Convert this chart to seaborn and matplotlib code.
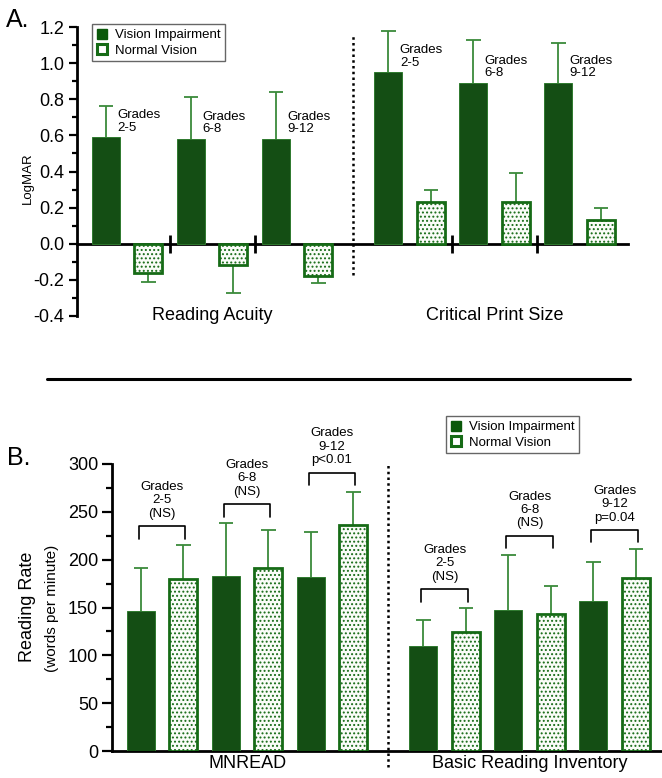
import numpy as np
import pandas as pd
import matplotlib
matplotlib.use('Agg')
import matplotlib.pyplot as plt
from matplotlib.patches import Patch
from matplotlib.lines import Line2D
from matplotlib.ticker import MultipleLocator
import seaborn as sns

groups = ['Vision Impairment', 'Normal Vision']
grades = ['2-5', '6-8', '9-12']

# panel A: LogMAR (mean, sd)
ra_vi = [0.59, 0.58, 0.58]
ra_vi_sd = [0.17, 0.23, 0.26]
ra_nv = [-0.16, -0.12, -0.18]
ra_nv_sd = [0.05, 0.15, 0.04]
cps_vi = [0.95, 0.89, 0.89]
cps_vi_sd = [0.23, 0.24, 0.22]
cps_nv = [0.23, 0.23, 0.13]
cps_nv_sd = [0.07, 0.16, 0.07]
a_names = ['Reading Acuity', 'Critical Print Size']

# panel B: reading rate, words per minute (mean, sd)
mn_vi = [146, 183, 182]
mn_vi_sd = [45, 55, 47]
mn_nv = [180, 191, 236]
mn_nv_sd = [35, 40, 35]
bri_vi = [110, 147, 157]
bri_vi_sd = [27, 58, 41]
bri_nv = [124, 143, 181]
bri_nv_sd = [25, 29, 30]
mn_p = ['(NS)', '(NS)', 'p<0.01']
bri_p = ['(NS)', '(NS)', 'p=0.04']
b_names = ['MNREAD', 'Basic Reading Inventory']

DARK = '#0a580a'
ERR = '#3a8a3a'
NV_EDGE = '#166b16'
NV_FACE = '#fafcf8'

# bar slots: pairs of VI/NV, wider gap between the two measures
VI_X = np.array([0, 2, 4, 6.65, 8.65, 10.65])
NV_X = VI_X + 1
XLIM = (-0.68, 12.29)


def make_df(vi1, sd_vi1, nv1, sd_nv1, vi2, sd_vi2, nv2, sd_nv2):
    return pd.DataFrame({
        'pos': np.concatenate([VI_X, NV_X]),
        'value': list(vi1) + list(vi2) + list(nv1) + list(nv2),
        'sd': list(sd_vi1) + list(sd_vi2) + list(sd_nv1) + list(sd_nv2),
        'group': [groups[0]] * 6 + [groups[1]] * 6,
    })


def draw_bars(ax, df):
    sns.barplot(data=df, x='pos', y='value', hue='group', hue_order=groups,
                palette=[DARK, NV_FACE], native_scale=True, dodge=False,
                width=0.66, errorbar=None, legend=False, ax=ax, zorder=3)
    for p in ax.containers[0]:
        p.set_edgecolor('#2f7a2f')
        p.set_linewidth(0.7)
    for p in ax.containers[1]:
        p.set_facecolor(NV_FACE)
        p.set_edgecolor(NV_EDGE)
        p.set_hatch('....')
        p.set_linewidth(2)
    # one sided error bars
    v = df['value'].to_numpy()
    tip = np.where(v >= 0, v + df['sd'], v - df['sd'])
    ax.vlines(df['pos'], v, tip, color=ERR, lw=1.3, zorder=2)
    ax.hlines(tip, df['pos'] - 0.17, df['pos'] + 0.17, color=ERR, lw=1.3, zorder=2)
    ax.set_xlim(XLIM)
    ax.set_xlabel('')
    ax.set_ylabel('')
    sns.despine(ax=ax)


sns.set_style('ticks', {'axes.edgecolor': 'black', 'xtick.color': 'black',
                        'ytick.color': 'black', 'text.color': 'black'})
plt.rcParams['font.family'] = ['Liberation Sans', 'DejaVu Sans']
plt.rcParams['hatch.linewidth'] = 0.9

fig = plt.figure(figsize=(6.62, 7.78), dpi=100)
W, H = 662, 778
axA = fig.add_axes([77 / W, 1 - 316 / H, 551 / W, 289 / H])
axB = fig.add_axes([112 / W, 1 - 751 / H, 551 / W, 287 / H])

# ---------- panel A
dfA = make_df(ra_vi, ra_vi_sd, ra_nv, ra_nv_sd, cps_vi, cps_vi_sd, cps_nv, cps_nv_sd)
draw_bars(axA, dfA)
axA.set_ylim(-0.4, 1.2)
axA.spines['bottom'].set_position(('data', 0))
axA.spines['bottom'].set_linewidth(2)
axA.spines['left'].set_linewidth(2)
axA.yaxis.set_minor_locator(MultipleLocator(0.1))
axA.set_yticks(np.arange(-0.4, 1.21, 0.2))
axA.set_yticklabels([f'{t:.1f}' for t in np.arange(-0.4, 1.21, 0.2)])
axA.tick_params(axis='y', which='major', length=6, width=1.6, labelsize=13, pad=3)
axA.tick_params(axis='y', which='minor', length=3.5, width=1.6)
breaks = [(NV_X[i] + VI_X[i + 1]) / 2 for i in [0, 1, 3, 4]]
axA.set_xticks(breaks)
axA.set_xticklabels([])
axA.tick_params(axis='x', direction='inout', length=13, width=2)
mid = (NV_X[2] + VI_X[3]) / 2
axA.plot([mid, mid], [-0.175, 1.16], ls=(0, (1, 1.3)), lw=1.8, color='black', clip_on=False)
for k, name in enumerate(a_names):
    axA.text((VI_X[3 * k] + NV_X[3 * k + 2]) / 2, -0.4, name, ha='center', va='center', fontsize=13)
for k, vals in enumerate([ra_vi, cps_vi]):
    for i, g in enumerate(grades):
        axA.text(VI_X[3 * k + i] + 0.27, vals[i] + 0.155, f'Grades\n{g}', ha='left', va='top',
                 fontsize=9.5, linespacing=1.05)

# ---------- panel B
dfB = make_df(mn_vi, mn_vi_sd, mn_nv, mn_nv_sd, bri_vi, bri_vi_sd, bri_nv, bri_nv_sd)
draw_bars(axB, dfB)
axB.set_ylim(0, 300)
axB.spines['bottom'].set_linewidth(2)
axB.spines['left'].set_linewidth(2)
axB.yaxis.set_major_locator(MultipleLocator(50))
axB.yaxis.set_minor_locator(MultipleLocator(25))
axB.tick_params(axis='y', which='major', length=7, width=1.6, labelsize=13, pad=3)
axB.tick_params(axis='y', which='minor', length=4, width=1.6)
axB.set_xticks([(VI_X[0] + NV_X[2]) / 2, (VI_X[3] + NV_X[5]) / 2])
axB.set_xticklabels(b_names, fontsize=13)
axB.tick_params(axis='x', length=0, pad=3)
axB.set_xlim(XLIM)
axB.plot([mid, mid], [-17, 300], ls=(0, (1, 1.3)), lw=1.8, color='black', clip_on=False)
v = dfB['value'].to_numpy() + dfB['sd'].to_numpy()
for k, plist in enumerate([mn_p, bri_p]):
    for i, g in enumerate(grades):
        j = 3 * k + i
        x0, x1 = VI_X[j] - 0.05, NV_X[j] + 0.05
        top = max(v[j], v[j + 6]) + 20
        axB.plot([x0, x0, x1, x1], [top - 13, top, top, top - 13], color='black', lw=1.2,
                 clip_on=False)
        axB.text((x0 + x1) / 2, top + 27, f'Grades\n{g}\n{plist[i]}', ha='center', va='center',
                 fontsize=9.5, linespacing=1.15, clip_on=False)

# ---------- legends, labels
handles = [Patch(facecolor=DARK, edgecolor=DARK, label=groups[0]),
           Patch(facecolor='white', edgecolor=NV_EDGE, lw=2.2, label=groups[1])]
for (lx, ly) in [(92, 24), (446, 416)]:
    leg = fig.legend(handles=handles, loc='upper left', bbox_to_anchor=(lx / W, 1 - ly / H),
                     frameon=True, fancybox=False, edgecolor='0.4', framealpha=1,
                     fontsize=9.5, handlelength=0.8, handleheight=0.8, handletextpad=0.6,
                     labelspacing=0.2, borderpad=0.35, borderaxespad=0)
    leg.get_frame().set_linewidth(1)

fig.text(28 / W, 1 - 178 / H, 'LogMAR', rotation=90, ha='center', va='center', fontsize=9.5)
fig.text(27 / W, 1 - 607 / H, 'Reading Rate', rotation=90, ha='center', va='center', fontsize=13)
fig.text(52 / W, 1 - 608 / H, '(words per minute)', rotation=90, ha='center', va='center',
         fontsize=11)
fig.text(6 / W, 1 - 20 / H, 'A.', ha='left', va='center', fontsize=18)
fig.text(7 / W, 1 - 458 / H, 'B.', ha='left', va='center', fontsize=18)
fig.add_artist(Line2D([47 / W, 630 / W], [1 - 379 / H] * 2, color='black', lw=2.2))

fig.savefig('out.png', dpi=100)
